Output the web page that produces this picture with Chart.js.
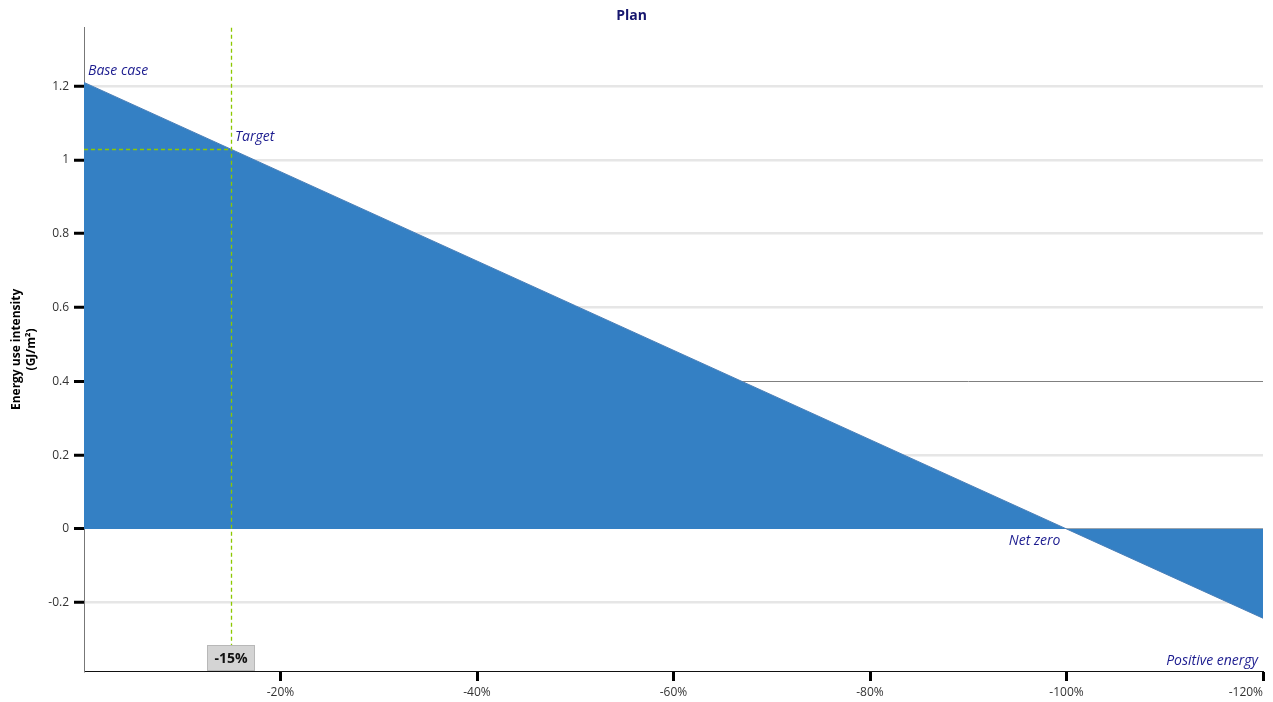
<!DOCTYPE html>
<html>
<head>
<meta charset="utf-8">
<script src="https://cdn.jsdelivr.net/npm/chart.js@4/dist/chart.umd.min.js"></script>
<style>
  html, body { margin: 0; padding: 0; background: #fff; }
  #wrap { width: 1273px; height: 702px; }
</style>
</head>
<body>
<div id="wrap"><canvas id="plan"></canvas></div>
<script>
// reduction vs base case (%), energy use intensity (GJ/m2)
var reductionPct = [0, 100, 120];
var euiValues = [1.21, 0, -0.242];
var targetPct = 15;
var targetEui = 1.03;
var xTicks = [20, 40, 60, 80, 100, 120];
var yTicks = [-0.2, 0, 0.2, 0.4, 0.6, 0.8, 1, 1.2];

var navy = '#1c1c8f';
var font = "'Open Sans', 'Noto Sans', sans-serif";

var points = reductionPct.map(function (r, i) { return { x: r, y: euiValues[i] }; });

// labels + target marker
var notes = {
    id: 'notes',
    afterDatasetsDraw: function (chart) {
        var ctx = chart.ctx, xs = chart.scales.x, ys = chart.scales.y, area = chart.chartArea;
        var tx = Math.round(xs.getPixelForValue(targetPct)), ty = Math.round(ys.getPixelForValue(targetEui));
        ctx.save();
        ctx.globalAlpha = 1;
        ctx.globalCompositeOperation = 'source-over';
        ctx.strokeStyle = 'rgb(140, 200, 0)';
        ctx.lineWidth = 1.3;
        ctx.setLineDash([4, 3]);
        ctx.beginPath();
        ctx.moveTo(tx + 0.5, area.top);
        ctx.lineTo(tx + 0.5, area.bottom - 25);
        ctx.stroke();
        ctx.beginPath();
        ctx.moveTo(area.left, ty + 0.5);
        ctx.lineTo(tx, ty + 0.5);
        ctx.stroke();
        ctx.setLineDash([]);

        ctx.fillStyle = navy;
        ctx.font = 'italic 14px ' + font;
        ctx.textBaseline = 'middle';
        ctx.textAlign = 'left';
        ctx.fillText('Base case', xs.getPixelForValue(0) + 4, ys.getPixelForValue(euiValues[0]) - 11);
        ctx.fillText('Target', tx + 4, ty - 12);
        ctx.textAlign = 'right';
        ctx.fillText('Net zero', xs.getPixelForValue(100) - 6, ys.getPixelForValue(0) + 12);
        ctx.fillText('Positive energy', area.right - 5, area.bottom - 10);

        // target badge
        var bw = 48, bh = 26;
        ctx.fillStyle = '#d4d4d4';
        ctx.strokeStyle = '#b8b8b8';
        ctx.lineWidth = 1;
        ctx.fillRect(tx - bw / 2, area.bottom - bh, bw, bh);
        ctx.strokeRect(tx - bw / 2 + 0.5, area.bottom - bh + 0.5, bw - 1, bh - 1);
        ctx.fillStyle = '#111';
        ctx.font = 'bold 14px ' + font;
        ctx.textAlign = 'center';
        ctx.fillText('-' + targetPct + '%', tx, area.bottom - bh / 2 + 1);
        ctx.restore();
    }
};

new Chart(document.getElementById('plan'), {
    type: 'line',
    data: {
        datasets: [{
            data: points,
            fill: 'origin',
            backgroundColor: '#3480c4',
            borderColor: '#4a7fb8',
            borderWidth: 1,
            pointRadius: 0,
            tension: 0
        }]
    },
    options: {
        responsive: true,
        maintainAspectRatio: false,
        animation: false,
        layout: { padding: { left: 0, right: 10, top: 0, bottom: 0 } },
        plugins: {
            legend: { display: false },
            tooltip: { enabled: false },
            title: {
                display: true,
                text: 'Plan',
                color: '#16166e',
                font: { family: font, size: 14, weight: 'bold' },
                padding: { top: 8, bottom: 3 }
            }
        },
        scales: {
            x: {
                type: 'linear',
                min: 0,
                max: 120,
                afterBuildTicks: function (s) { s.ticks = xTicks.map(function (v) { return { value: v }; }); },
                afterFit: function (s) { s.height = 31; s.paddingLeft = 0; s.paddingRight = 0; },
                border: { color: '#111', width: 1 },
                grid: { drawOnChartArea: false, tickColor: '#000', tickLength: 10, tickWidth: 3 },
                ticks: {
                    color: '#333',
                    padding: 4,
                    font: { family: font, size: 12 },
                    callback: function (v) {
                        var t = '-' + v + '%';
                        return v === 120 ? t + '\u2007\u2007\u2007\u2007\u2007' : t;
                    }
                }
            },
            y: {
                min: -0.385,
                max: 1.358,
                afterBuildTicks: function (s) { s.ticks = yTicks.map(function (v) { return { value: v }; }); },
                afterFit: function (s) { s.width = 84; s.paddingTop = 0; s.paddingBottom = 0; },
                border: { color: '#777', width: 1 },
                grid: {
                    color: function (c) {
                        var v = c.tick && c.tick.value;
                        if (Math.abs(v - 0.4) < 1e-6) return '#808080';
                        if (v === 0) return '#9aa4ae';
                        return '#e6e6e6';
                    },
                    lineWidth: function (c) {
                        var v = c.tick && c.tick.value;
                        return (Math.abs(v - 0.4) < 1e-6 || v === 0) ? 1 : 2.5;
                    },
                    tickColor: '#000',
                    tickLength: 10,
                    tickWidth: 3
                },
                ticks: {
                    color: '#333',
                    padding: 5,
                    font: { family: font, size: 12 },
                    callback: function (v) { return String(Math.round(v * 10) / 10); }
                },
                title: {
                    display: true,
                    text: ['Energy use intensity', '(GJ/m\u00b2)'],
                    color: '#000',
                    font: { family: font, size: 12, weight: 'bold', lineHeight: 1.25 },
                    padding: { top: 9, bottom: 0 }
                }
            }
        }
    },
    plugins: [notes]
});
</script>
</body>
</html>
